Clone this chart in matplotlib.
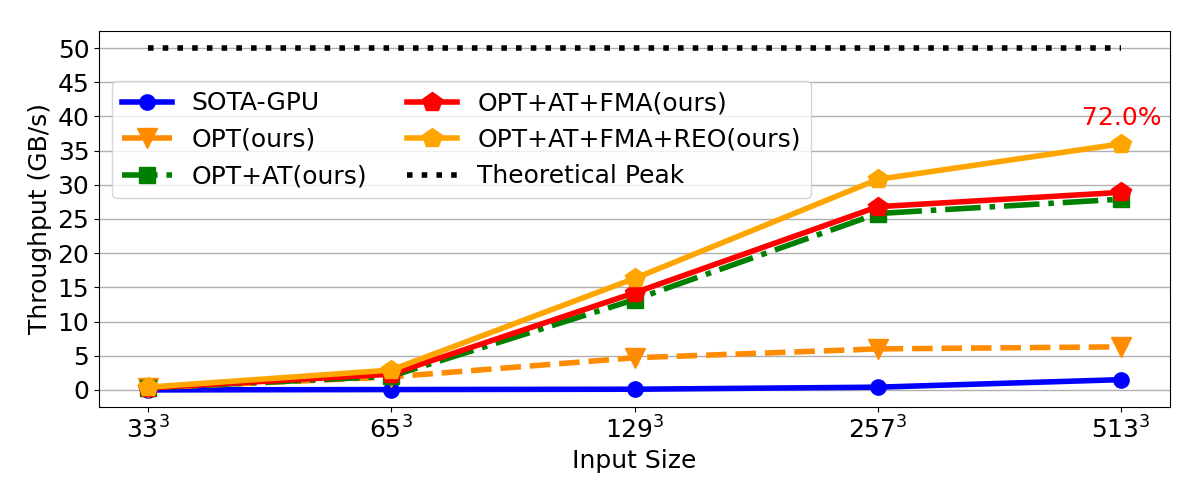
import matplotlib
matplotlib.use("Agg")
import matplotlib.pyplot as plt
import numpy as np

sizes = ["$33^3$", "$65^3$", "$129^3$", "$257^3$", "$513^3$"]
sota_gpu = [0.0, 0.05, 0.1, 0.4, 1.5]
opt = [0.3, 1.9, 4.7, 6.0, 6.3]
opt_at = [0.3, 2.0, 13.2, 25.8, 27.9]
opt_at_fma = [0.3, 2.3, 14.2, 26.8, 28.9]
opt_at_fma_reo = [0.4, 2.9, 16.3, 30.8, 36.0]
peak = [50, 50, 50, 50, 50]

plt.rcParams.update({"font.size": 18})

fig = plt.figure(figsize=(12, 5), dpi=100)
ax = fig.add_axes([0.0825, 0.186, 0.8925, 0.752])
x = np.arange(len(sizes))

ax.plot(x, sota_gpu, "o-", color="blue", lw=4, ms=11, label="SOTA-GPU")
ax.plot(x, opt, "v--", color="darkorange", lw=4, ms=15, label="OPT(ours)")
ax.plot(x, opt_at, "s-.", color="green", lw=4, ms=11, label="OPT+AT(ours)")
ax.plot(x, opt_at_fma, "p-", color="red", lw=4, ms=15, label="OPT+AT+FMA(ours)")
ax.plot(x, opt_at_fma_reo, "p-", color="orange", lw=4, ms=15,
        label="OPT+AT+FMA+REO(ours)")
ax.plot(x, peak, ":", color="black", lw=4, label="Theoretical Peak")

ratio = opt_at_fma_reo[-1] / peak[-1] * 100
ax.text(x[-1], opt_at_fma_reo[-1] + 3.8, f"{ratio:.1f}%", color="red",
        ha="center", va="center", fontsize=18)

ax.set_xticks(x)
ax.set_xticklabels(sizes)
ax.set_yticks(np.arange(0, 55, 5))
ax.set_xlabel("Input Size")
ax.set_ylabel("Throughput (GB/s)")
ax.grid(axis="y", color="#b0b0b0", lw=1)
ax.set_axisbelow(True)
ax.legend(ncol=2, loc="upper left", bbox_to_anchor=(0.012, 0.866),
          borderaxespad=0, fontsize=18, handlelength=2.0, columnspacing=1.6)

fig.savefig("out.png", dpi=100)
